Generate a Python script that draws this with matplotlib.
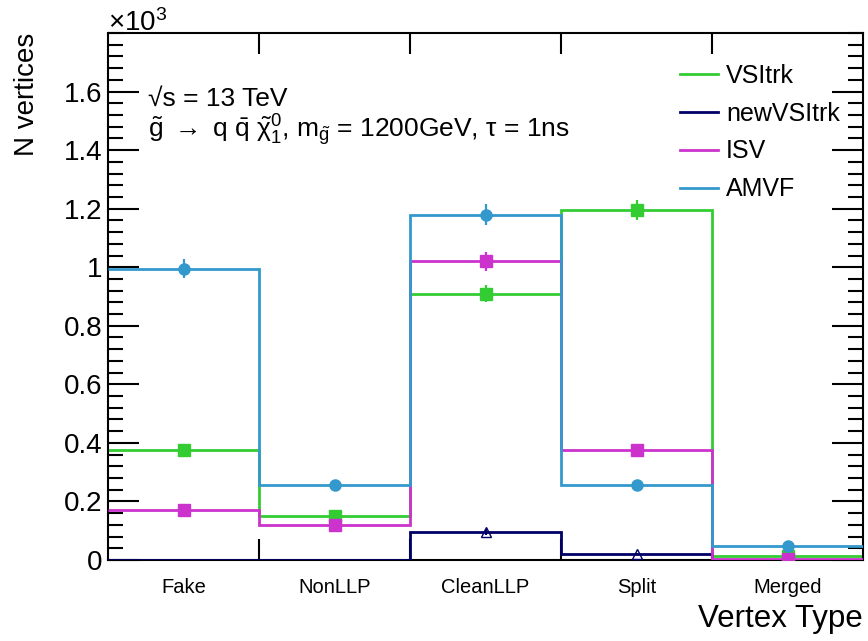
import numpy as np
import matplotlib
matplotlib.use("Agg")
import matplotlib.pyplot as plt
from matplotlib.lines import Line2D
from matplotlib.ticker import FixedLocator, FuncFormatter, MultipleLocator

plt.rcParams.update({
    "font.family": ["Liberation Sans", "DejaVu Sans"],
    "mathtext.fontset": "custom",
    "mathtext.rm": "Liberation Sans",
    "mathtext.it": "Liberation Sans",
    "mathtext.bf": "Liberation Sans:bold",
})

# -----------------------------
#  Data (vertex counts per category)
# -----------------------------
categories = ["Fake", "NonLLP", "CleanLLP", "Split", "Merged"]
vsitrk = [375, 150, 910, 1195, 12]
newvsitrk = [0, 0, 95, 20, 0]
isv = [170, 120, 1020, 375, 5]
amvf = [995, 255, 1180, 255, 48]

series = [
    ("VSItrk", vsitrk, "#33cc33", "s", True),
    ("newVSItrk", newvsitrk, "#000066", "^", False),
    ("ISV", isv, "#cc33cc", "s", True),
    ("AMVF", amvf, "#3399cc", "o", True),
]

# -----------------------------
#  Plot
# -----------------------------
fig = plt.figure(figsize=(8.68, 6.41), dpi=100)
ax = fig.add_axes([108 / 868, 1 - 560 / 641, 755 / 868, 527 / 641])

edges = np.arange(len(categories) + 1)
centers = edges[:-1] + 0.5

for i, (name, vals, col, mk, filled) in enumerate(series):
    vals = np.asarray(vals, dtype=float)
    ax.stairs(vals, edges, baseline=None, color=col, lw=2.0, zorder=2 + i)
    m = vals > 0
    ax.errorbar(centers[m], vals[m], yerr=np.sqrt(vals[m]), fmt=mk, color=col,
                mfc=col if filled else "none", mec=col, ms=8 if mk != "^" else 7,
                mew=1.0, elinewidth=1.6, capsize=0, zorder=2.5 + i)

ax.set_xlim(0, 5)
ax.set_ylim(0, 1800)

# ticks
ax.xaxis.set_major_locator(FixedLocator(centers))
ax.set_xticklabels(categories, fontsize=14.5)
ax.xaxis.set_minor_locator(FixedLocator(edges[1:-1]))
ax.tick_params(axis="x", which="major", length=0, pad=13)
ax.tick_params(axis="x", which="minor", direction="in", length=15, width=1.5,
               top=True, bottom=True)

ax.yaxis.set_major_locator(FixedLocator(np.arange(0, 1601, 200)))
ax.yaxis.set_minor_locator(MultipleLocator(40))
ax.yaxis.set_major_formatter(FuncFormatter(lambda v, p: f"{v / 1000:g}"))
ax.tick_params(axis="y", which="major", direction="in", length=22, width=1.5,
               left=True, right=True, labelsize=20, pad=4)
ax.tick_params(axis="y", which="minor", direction="in", length=11, width=1.5,
               left=True, right=True)

for s in ax.spines.values():
    s.set_linewidth(1.5)

ax.set_ylabel("N vertices", fontsize=20, loc="top")
ax.yaxis.set_label_coords(-0.09, 1.0)
ax.set_xlabel("Vertex Type", fontsize=22.5, loc="right", labelpad=5)

fig.text(108 / 868, 1 - 31 / 641, r"$\times10^{3}$", fontsize=20,
         va="baseline", ha="left")

fig.text(148 / 868, 1 - 106 / 641, "√s = 13 TeV", fontsize=19, va="baseline")
fig.text(148 / 868, 1 - 137 / 641,
         r"$\tilde{g}$ $\rightarrow$ q $\bar{q}$ $\tilde{\chi}_{1}^{0}$, "
         r"m$_{\tilde{g}}$ = 1200GeV, $\tau$ = 1ns",
         fontsize=19, va="baseline")

handles = [Line2D([], [], color=col, lw=2.0) for _, _, col, _, _ in series]
labels = [name for name, _, _, _, _ in series]
fig.legend(handles, labels, loc="upper left",
           bbox_to_anchor=(680 / 868, 1 - 64 / 641), frameon=False,
           fontsize=18, handlelength=1.5, handletextpad=0.35,
           labelspacing=0.55, borderpad=0, borderaxespad=0)

fig.savefig("out.png", dpi=100)
